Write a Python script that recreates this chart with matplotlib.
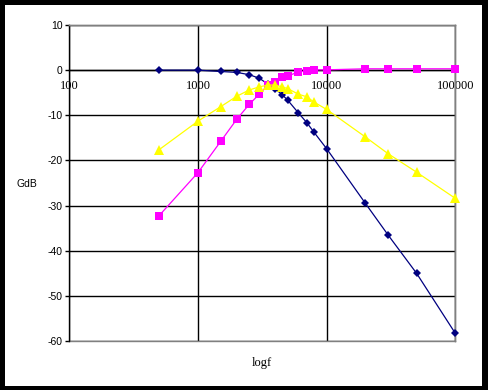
import matplotlib
matplotlib.use("Agg")
import matplotlib.pyplot as plt
from matplotlib.lines import Line2D
from matplotlib.patches import Rectangle
from matplotlib.ticker import FixedLocator, FuncFormatter, NullLocator

# Data
freq = [500, 1000, 1500, 2000, 2500, 3000, 3500, 4000, 4500, 5000,
        6000, 7000, 8000, 10000, 20000, 30000, 50000, 100000]
lowpass = [0.0, 0.0, -0.3, -0.5, -1.0, -1.8, -3.1, -4.2, -5.4, -6.7,
           -9.4, -11.6, -13.8, -17.4, -29.5, -36.5, -45.0, -58.3]
highpass = [-32.2, -22.7, -15.8, -10.9, -7.6, -5.3, -3.3, -2.6, -1.6, -1.3,
            -0.4, -0.15, 0.07, 0.07, 0.3, 0.3, 0.3, 0.3]
bandpass = [-17.6, -11.3, -8.1, -5.8, -4.4, -3.7, -3.3, -3.3, -3.7, -4.1,
            -5.3, -5.9, -7.1, -8.7, -14.8, -18.5, -22.6, -28.4]
xticks = [100, 1000, 10000, 100000]
yticks = [-60, -50, -40, -30, -20, -10, 0, 10]

W, H = 489, 390
fig = plt.figure(figsize=(W / 100, H / 100), dpi=100)
fig.patch.set_facecolor("white")

serif = "Liberation Serif"
sans = "Liberation Sans"
fs = 9
fs_sans = 7.5

x0, x1 = 69.3, 455.3
ytop, ybot = 25, 341
ax = fig.add_axes([x0 / W, (H - ybot) / H, (x1 - x0) / W, (ybot - ytop) / H])
ax.set_xscale("log")
ax.set_xlim(100, 100000)
ax.set_ylim(-60, 10)

ax.xaxis.set_major_locator(FixedLocator(xticks))
ax.xaxis.set_minor_locator(NullLocator())
ax.xaxis.set_major_formatter(FuncFormatter(lambda v, p: f"{int(round(v))}"))
ax.yaxis.set_major_locator(FixedLocator(yticks))
ax.yaxis.set_major_formatter(FuncFormatter(lambda v, p: f"{int(round(v))}"))

ax.grid(True, which="major", color="black", linewidth=1.0)
ax.set_axisbelow(True)

# spines
ax.spines["bottom"].set_position(("data", 0))
ax.spines["bottom"].set_color("black")
ax.spines["bottom"].set_linewidth(1.0)
ax.spines["left"].set_color("black")
ax.spines["left"].set_linewidth(1.0)
for s in ("top", "right"):
    ax.spines[s].set_color("#808080")
    ax.spines[s].set_linewidth(1.0)
# gray border of plot area
ax.add_line(Line2D([0, 1], [0, 0], transform=ax.transAxes, color="#808080",
                   linewidth=1.0, zorder=1.5, clip_on=False))
ax.add_line(Line2D([1, 1], [0, 1], transform=ax.transAxes, color="#808080",
                   linewidth=1.0, zorder=1.5, clip_on=False))
ax.add_line(Line2D([0, 1], [1, 1], transform=ax.transAxes, color="#808080",
                   linewidth=1.0, zorder=1.5, clip_on=False))

ax.tick_params(axis="x", length=0, pad=7, labelsize=fs)
ax.tick_params(axis="y", direction="out", length=3, width=1, pad=2,
               labelsize=fs_sans)
for lab in ax.get_xticklabels():
    lab.set_fontfamily(serif)
for lab in ax.get_yticklabels():
    lab.set_fontfamily(sans)

ax.plot(freq, lowpass, color="#000080", linewidth=0.9, marker="D",
        markersize=4.5, markeredgewidth=0, zorder=3, clip_on=False)
ax.plot(freq, highpass, color="#FF00FF", linewidth=0.9, marker="s",
        markersize=5.5, markeredgewidth=0, zorder=3, clip_on=False)
ax.plot(freq, bandpass, color="#FFFF00", linewidth=0.9, marker="^",
        markersize=6.5, markeredgewidth=0, zorder=3, clip_on=False)

fig.text(27 / W, 1 - 184 / H, "GdB", fontfamily=sans, fontsize=fs_sans,
         ha="center", va="center")
fig.text(262 / W, 1 - 363 / H, "logf", fontfamily=serif, fontsize=fs,
         ha="center", va="center")

# outer black frame (chart area border)
def frame(x, y, w, h):
    fig.patches.append(Rectangle((x / W, 1 - (y + h) / H), w / W, h / H,
                                 transform=fig.transFigure, facecolor="black",
                                 edgecolor="none", zorder=10))
frame(0, 0, W, 5)
frame(0, 0, 5, H)
frame(0, H - 4, W, 4)
frame(482, 0, W - 482, H)

fig.savefig("out.png", dpi=100, facecolor="white")
